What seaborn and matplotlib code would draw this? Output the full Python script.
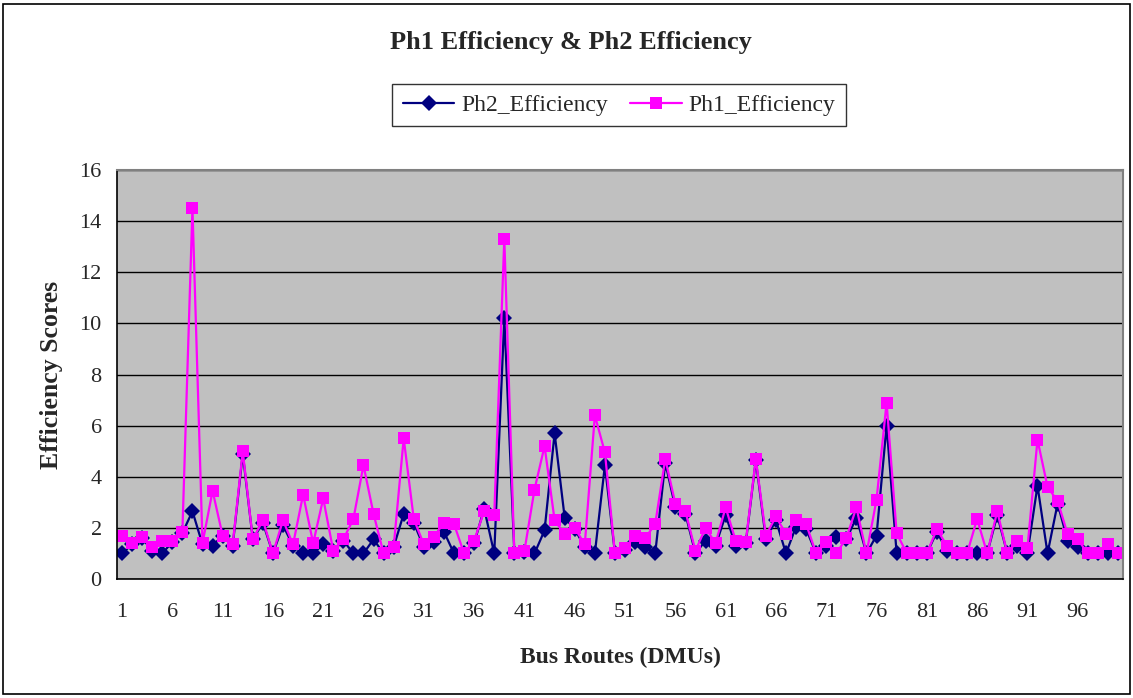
import numpy as np
import pandas as pd
import matplotlib
matplotlib.use("Agg")
import matplotlib.pyplot as plt
import seaborn as sns
from matplotlib.patches import Rectangle

# data
routes = list(range(1, 101))

ph2_eff = [1.0, 1.35, 1.6, 1.1, 1.0, 1.45, 1.8, 2.65, 1.35, 1.3,
           1.7, 1.3, 4.9, 1.55, 2.2, 1.0, 2.1, 1.3, 1.0, 1.0,
           1.35, 1.1, 1.5, 1.0, 1.0, 1.55, 1.0, 1.25, 2.55, 2.2,
           1.25, 1.45, 1.85, 1.0, 1.0, 1.4, 2.75, 1.0, 10.2, 1.0,
           1.05, 1.0, 1.9, 5.7, 2.4, 1.95, 1.25, 1.0, 4.45, 1.0,
           1.15, 1.45, 1.25, 1.0, 4.55, 2.8, 2.55, 1.0, 1.5, 1.3,
           2.5, 1.3, 1.4, 4.65, 1.55, 2.3, 1.0, 2.05, 1.95, 1.0,
           1.3, 1.65, 1.55, 2.4, 1.0, 1.7, 6.0, 1.0, 1.0, 1.0,
           1.0, 1.85, 1.1, 1.0, 1.0, 1.0, 1.0, 2.5, 1.0, 1.3,
           1.0, 3.65, 1.0, 2.95, 1.5, 1.25, 1.0, 1.0, 1.0, 1.0]

ph1_eff = [1.7, 1.4, 1.65, 1.25, 1.5, 1.5, 1.85, 14.5, 1.4, 3.45,
           1.7, 1.35, 5.0, 1.55, 2.3, 1.0, 2.3, 1.35, 3.3, 1.4,
           3.15, 1.1, 1.55, 2.35, 4.45, 2.55, 1.0, 1.25, 5.5, 2.35,
           1.35, 1.65, 2.2, 2.15, 1.0, 1.5, 2.65, 2.5, 13.3, 1.0,
           1.1, 3.5, 5.2, 2.3, 1.75, 2.0, 1.35, 6.4, 4.95, 1.0,
           1.2, 1.7, 1.6, 2.15, 4.7, 2.95, 2.65, 1.1, 2.0, 1.4,
           2.8, 1.5, 1.45, 4.7, 1.7, 2.45, 1.75, 2.3, 2.15, 1.0,
           1.45, 1.0, 1.6, 2.8, 1.0, 3.1, 6.9, 1.8, 1.0, 1.0,
           1.0, 1.95, 1.3, 1.0, 1.0, 2.35, 1.0, 2.65, 1.0, 1.5,
           1.2, 5.45, 3.6, 3.05, 1.75, 1.55, 1.0, 1.0, 1.35, 1.0]

x_labels = [str(r) for r in routes[::5]]

df = pd.DataFrame({
    "Route": routes * 2,
    "Score": ph2_eff + ph1_eff,
    "Series": ["Ph2_Efficiency"] * 100 + ["Ph1_Efficiency"] * 100,
})

sns.set_style("white")
plt.rcParams["font.family"] = ["Liberation Serif", "DejaVu Serif"]

fig = plt.figure(figsize=(11.33, 6.98), dpi=100)
ax = fig.add_axes([117 / 1133, 1 - 579 / 698, 1006 / 1133, 409 / 698])
ax.set_facecolor("#C0C0C0")

sns.lineplot(data=df, x="Route", y="Score", hue="Series", style="Series",
             hue_order=["Ph2_Efficiency", "Ph1_Efficiency"],
             palette={"Ph2_Efficiency": "#000080", "Ph1_Efficiency": "#FF00FF"},
             markers={"Ph2_Efficiency": "D", "Ph1_Efficiency": "s"},
             dashes=False, linewidth=1.6, markersize=8.5,
             markeredgewidth=0, ax=ax)

ax.set_xlim(0.5, 100.5)
ax.set_ylim(0, 16)
ax.set_yticks(np.arange(0, 17, 2))
ax.set_xticks(routes[::5])
ax.set_xticklabels(x_labels)
ax.set_xticks(np.arange(0.5, 101, 1), minor=True)
ax.yaxis.grid(True, color="black", linewidth=1.0)
ax.set_axisbelow(True)
ax.tick_params(axis="both", which="both", direction="out", labelsize=16,
               color="black")
ax.tick_params(axis="x", which="major", length=0, pad=17)
ax.tick_params(axis="x", which="minor", length=5, width=1)
ax.tick_params(axis="y", which="major", length=5, width=1, pad=6)

for s in ["left", "bottom"]:
    ax.spines[s].set_color("black")
    ax.spines[s].set_linewidth(1.2)
for s in ["top", "right"]:
    ax.spines[s].set_color("#808080")
    ax.spines[s].set_linewidth(1.5)

ax.set_xlabel("Bus Routes (DMUs)", fontsize=17, fontweight="bold", labelpad=18)
ax.set_ylabel("Efficiency Scores", fontsize=18.5, fontweight="bold", labelpad=12)

fig.text(0.504, 1 - 42 / 698, "Ph1 Efficiency & Ph2 Efficiency",
         ha="center", va="center", fontsize=19, fontweight="bold")

handles, labels = ax.get_legend_handles_labels()
ax.legend(handles, labels, ncol=2, loc="center",
          bbox_to_anchor=(619 / 1133, 1 - 105 / 698),
          bbox_transform=fig.transFigure, fontsize=17, frameon=True,
          fancybox=False, edgecolor="black", handlelength=2.2,
          columnspacing=0.9, handletextpad=0.3, borderpad=0.45)
ax.get_legend().get_frame().set_linewidth(1.0)

fig.patches.append(Rectangle((0.003, 0.006), 0.994, 0.988, transform=fig.transFigure,
                             fill=False, edgecolor="black", linewidth=1.2))

fig.savefig("out.png", dpi=100)
